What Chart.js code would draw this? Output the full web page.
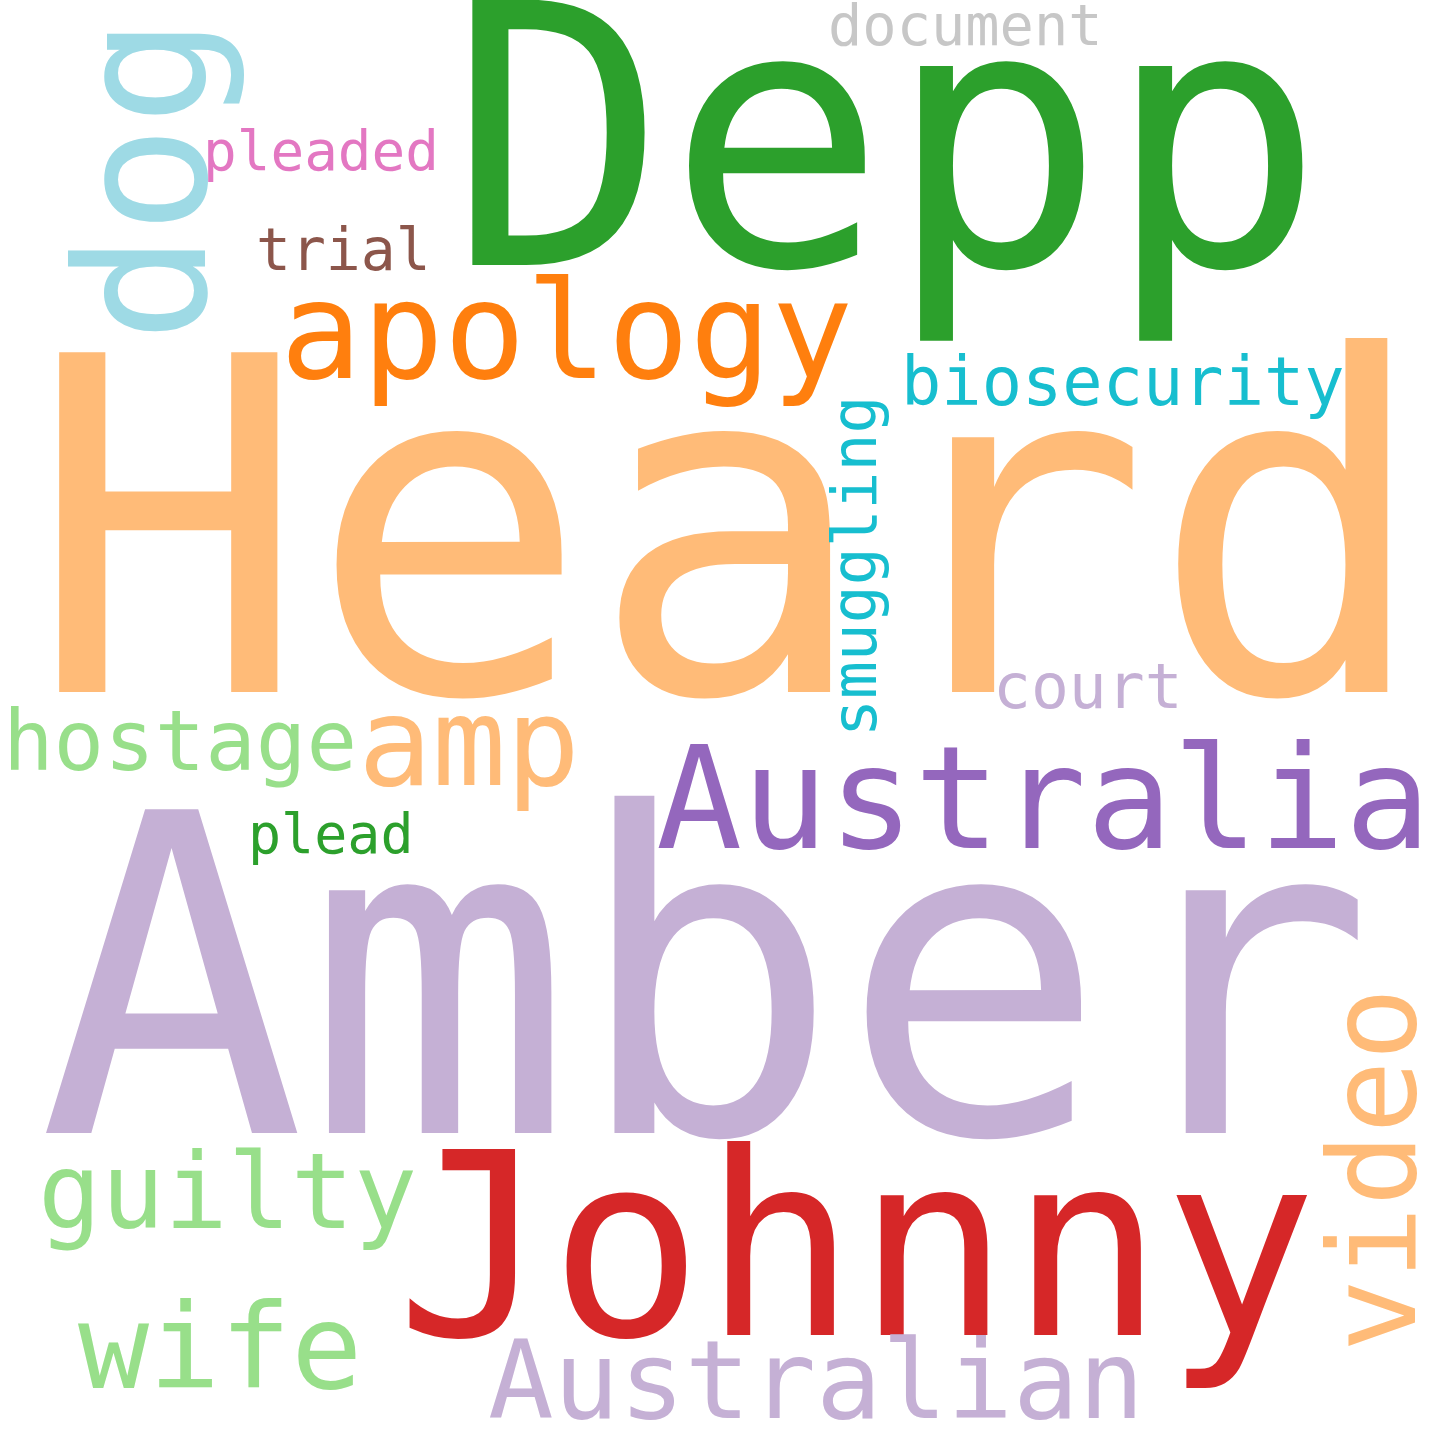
<!DOCTYPE html>
<html>
<head>
<meta charset="utf-8">
<script src="https://cdn.jsdelivr.net/npm/chart.js@4"></script>
<style>
  html, body { margin: 0; padding: 0; background: #fff; }
  #wrap { width: 1440px; height: 1440px; }
</style>
</head>
<body>
<div id="wrap"><canvas id="cloud"></canvas></div>
<script>
// words and their weight (font size in px)
const words   = ["Heard", "Amber", "Depp", "Johnny", "Australia", "apology", "amp", "guilty", "wife", "Australian", "video", "dog", "hostage", "smuggling", "biosecurity", "court", "document", "pleaded", "trial", "plead"];
const weights = [466, 444, 364, 255, 143, 136, 123, 105, 118, 109, 121, 180, 84, 63, 67, 63, 57, 56, 58, 55];
// layout: baseline start position and rotation (degrees)
const posX    = [28, 38, 448, 396, 656, 280, 358, 38, 78, 488, 1415, 205, 3, 876, 901, 993, 828, 203, 256, 248];
const posY    = [692, 1133, 265, 1335, 848, 378, 785, 1228, 1388, 1418, 1352, 342, 770, 737, 405, 708, 45, 170, 270, 853];
const rotate  = [0, 0, 0, 0, 0, 0, 0, 0, 0, 0, -90, -90, 0, -90, 0, 0, 0, 0, 0, 0];
const colors  = ["#ffbb78", "#c5b0d5", "#2ca02c", "#d62728", "#9467bd", "#ff7f0e", "#ffbb78", "#98df8a", "#98df8a", "#c5b0d5", "#ffbb78", "#9edae5", "#98df8a", "#17becf", "#17becf", "#c5b0d5", "#c7c7c7", "#e377c2", "#8c564b", "#2ca02c"];

const wordPlugin = {
    id: 'words',
    afterDatasetsDraw(chart) {
        const ctx = chart.ctx;
        const xs = chart.scales.x, ys = chart.scales.y;
        chart.data.datasets[0].data.forEach((d, i) => {
            ctx.save();
            ctx.translate(xs.getPixelForValue(d.x), ys.getPixelForValue(d.y));
            ctx.rotate(rotate[i] * Math.PI / 180);
            ctx.font = weights[i] + 'px "DejaVu Sans Mono", monospace';
            ctx.fillStyle = colors[i];
            ctx.textBaseline = 'alphabetic';
            ctx.textAlign = 'left';
            ctx.fillText(words[i], 0, 0);
            ctx.restore();
        });
    }
};

new Chart(document.getElementById('cloud'), {
    type: 'scatter',
    data: {
        datasets: [{
            data: words.map((w, i) => ({ x: posX[i], y: posY[i] })),
            pointRadius: 0
        }]
    },
    options: {
        responsive: true,
        maintainAspectRatio: false,
        animation: false,
        layout: { padding: 0 },
        plugins: { legend: { display: false }, tooltip: { enabled: false } },
        scales: {
            x: { display: false, min: 0, max: 1440 },
            y: { display: false, min: 0, max: 1440, reverse: true }
        }
    },
    plugins: [wordPlugin]
});
</script>
</body>
</html>
